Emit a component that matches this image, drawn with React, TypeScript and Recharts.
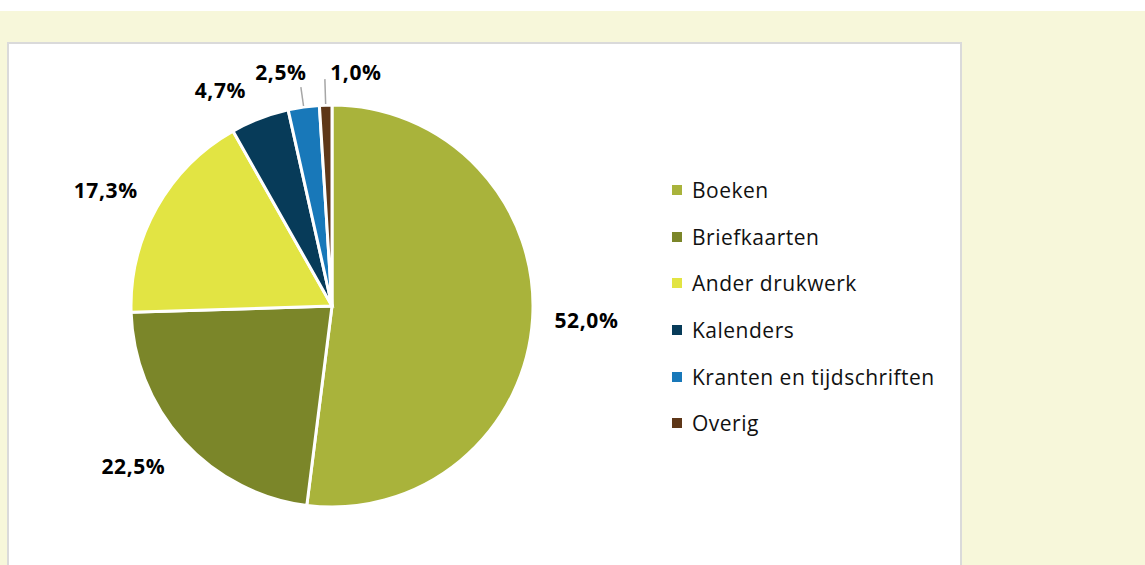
import { Cell, Legend, Pie, PieChart } from "recharts";

const categories = [
  "Boeken",
  "Briefkaarten",
  "Ander drukwerk",
  "Kalenders",
  "Kranten en tijdschriften",
  "Overig",
];
const shares = [52.0, 22.5, 17.3, 4.7, 2.5, 1.0];
const colors = ["#a9b33b", "#7b8629", "#e2e443", "#073b59", "#1878b9", "#5e3718"];

// label nudges (px) relative to the radial anchor, plus leader length for tiny slices
const labelNudge: Record<string, { dx: number; dy: number; leader?: number }> = {
  Boeken: { dx: 0, dy: -1 },
  Briefkaarten: { dx: -10, dy: -11 },
  "Ander drukwerk": { dx: -4, dy: 10 },
  Kalenders: { dx: -20, dy: 23 },
  "Kranten en tijdschriften": { dx: -20, dy: -14.5, leader: 20 },
  Overig: { dx: 31, dy: -6.5, leader: 26 },
};

const data = categories.map((name, i) => ({ name, value: shares[i] }));

const RAD = Math.PI / 180;
const FONT = "'Open Sans', 'Noto Sans', sans-serif";

function fmt(v: number) {
  return v.toFixed(1).replace(".", ",") + "%";
}

function LabelText({ x, y, children }: any) {
  return (
    <text
      x={x}
      y={y}
      textAnchor="middle"
      dy="0.35em"
      fill="#000"
      fontFamily={FONT}
      fontWeight={700}
      fontSize={21}
      letterSpacing={0.6}
    >
      {children}
    </text>
  );
}

function renderLabel(props: any) {
  const { cx, cy, midAngle, outerRadius, name, value } = props;
  const n = labelNudge[name] ?? { dx: 0, dy: 0 };
  const cos = Math.cos(-midAngle * RAD);
  const sin = Math.sin(-midAngle * RAD);
  if (n.leader) {
    const x1 = cx + (outerRadius + 1) * cos;
    const y1 = cy + (outerRadius + 1) * sin;
    const x2 = cx + (outerRadius + n.leader) * cos;
    const y2 = cy + (outerRadius + n.leader) * sin;
    return (
      <g>
        <line x1={x1} y1={y1} x2={x2} y2={y2} stroke="#a6a6a6" strokeWidth={1.5} />
        <LabelText x={x2 + n.dx} y={y2 + n.dy}>
          {fmt(value)}
        </LabelText>
      </g>
    );
  }
  const r = outerRadius + 54;
  return (
    <LabelText x={cx + r * cos + n.dx} y={cy + r * sin + n.dy}>
      {fmt(value)}
    </LabelText>
  );
}

function LegendList() {
  return (
    <div
      style={{
        fontFamily: FONT,
        fontSize: 21,
        letterSpacing: 0.5,
        color: "#111",
      }}
    >
      {categories.map((c, i) => (
        <div key={c} style={{ height: 46.6, display: "flex", alignItems: "center" }}>
          <span
            style={{
              display: "inline-block",
              width: 10,
              height: 10,
              background: colors[i],
              marginLeft: 4,
              marginRight: 10,
            }}
          />
          <span>{c}</span>
        </div>
      ))}
    </div>
  );
}

export default function App() {
  return (
    <div
      style={{
        position: "absolute",
        left: 0,
        top: 0,
        width: 1145,
        height: 565,
        background: "#fff",
        overflow: "hidden",
      }}
    >
      <div
        style={{
          position: "absolute",
          left: 0,
          top: 11,
          width: 1145,
          height: 554,
          background: "#f7f7da",
        }}
      />
      <div
        style={{
          position: "absolute",
          left: 7,
          top: 42,
          width: 951,
          height: 540,
          background: "#fff",
          border: "2px solid #dadada",
        }}
      />
      <div style={{ position: "absolute", left: 0, top: 0 }}>
        <PieChart
          width={1145}
          height={565}
          margin={{ top: 0, right: 0, bottom: 0, left: 0 }}
        >
          <Pie
            data={data}
            dataKey="value"
            nameKey="name"
            cx={332}
            cy={306}
            outerRadius={201}
            startAngle={90}
            endAngle={-270}
            stroke="#fff"
            strokeWidth={3}
            label={renderLabel}
            labelLine={false}
            isAnimationActive={false}
          >
            {data.map((d, i) => (
              <Cell key={d.name} fill={colors[i]} />
            ))}
          </Pie>
          <Legend
            layout="vertical"
            align="right"
            verticalAlign="top"
            content={<LegendList />}
            wrapperStyle={{ left: 668, top: 167, width: 320, right: "auto" }}
          />
        </PieChart>
      </div>
    </div>
  );
}
